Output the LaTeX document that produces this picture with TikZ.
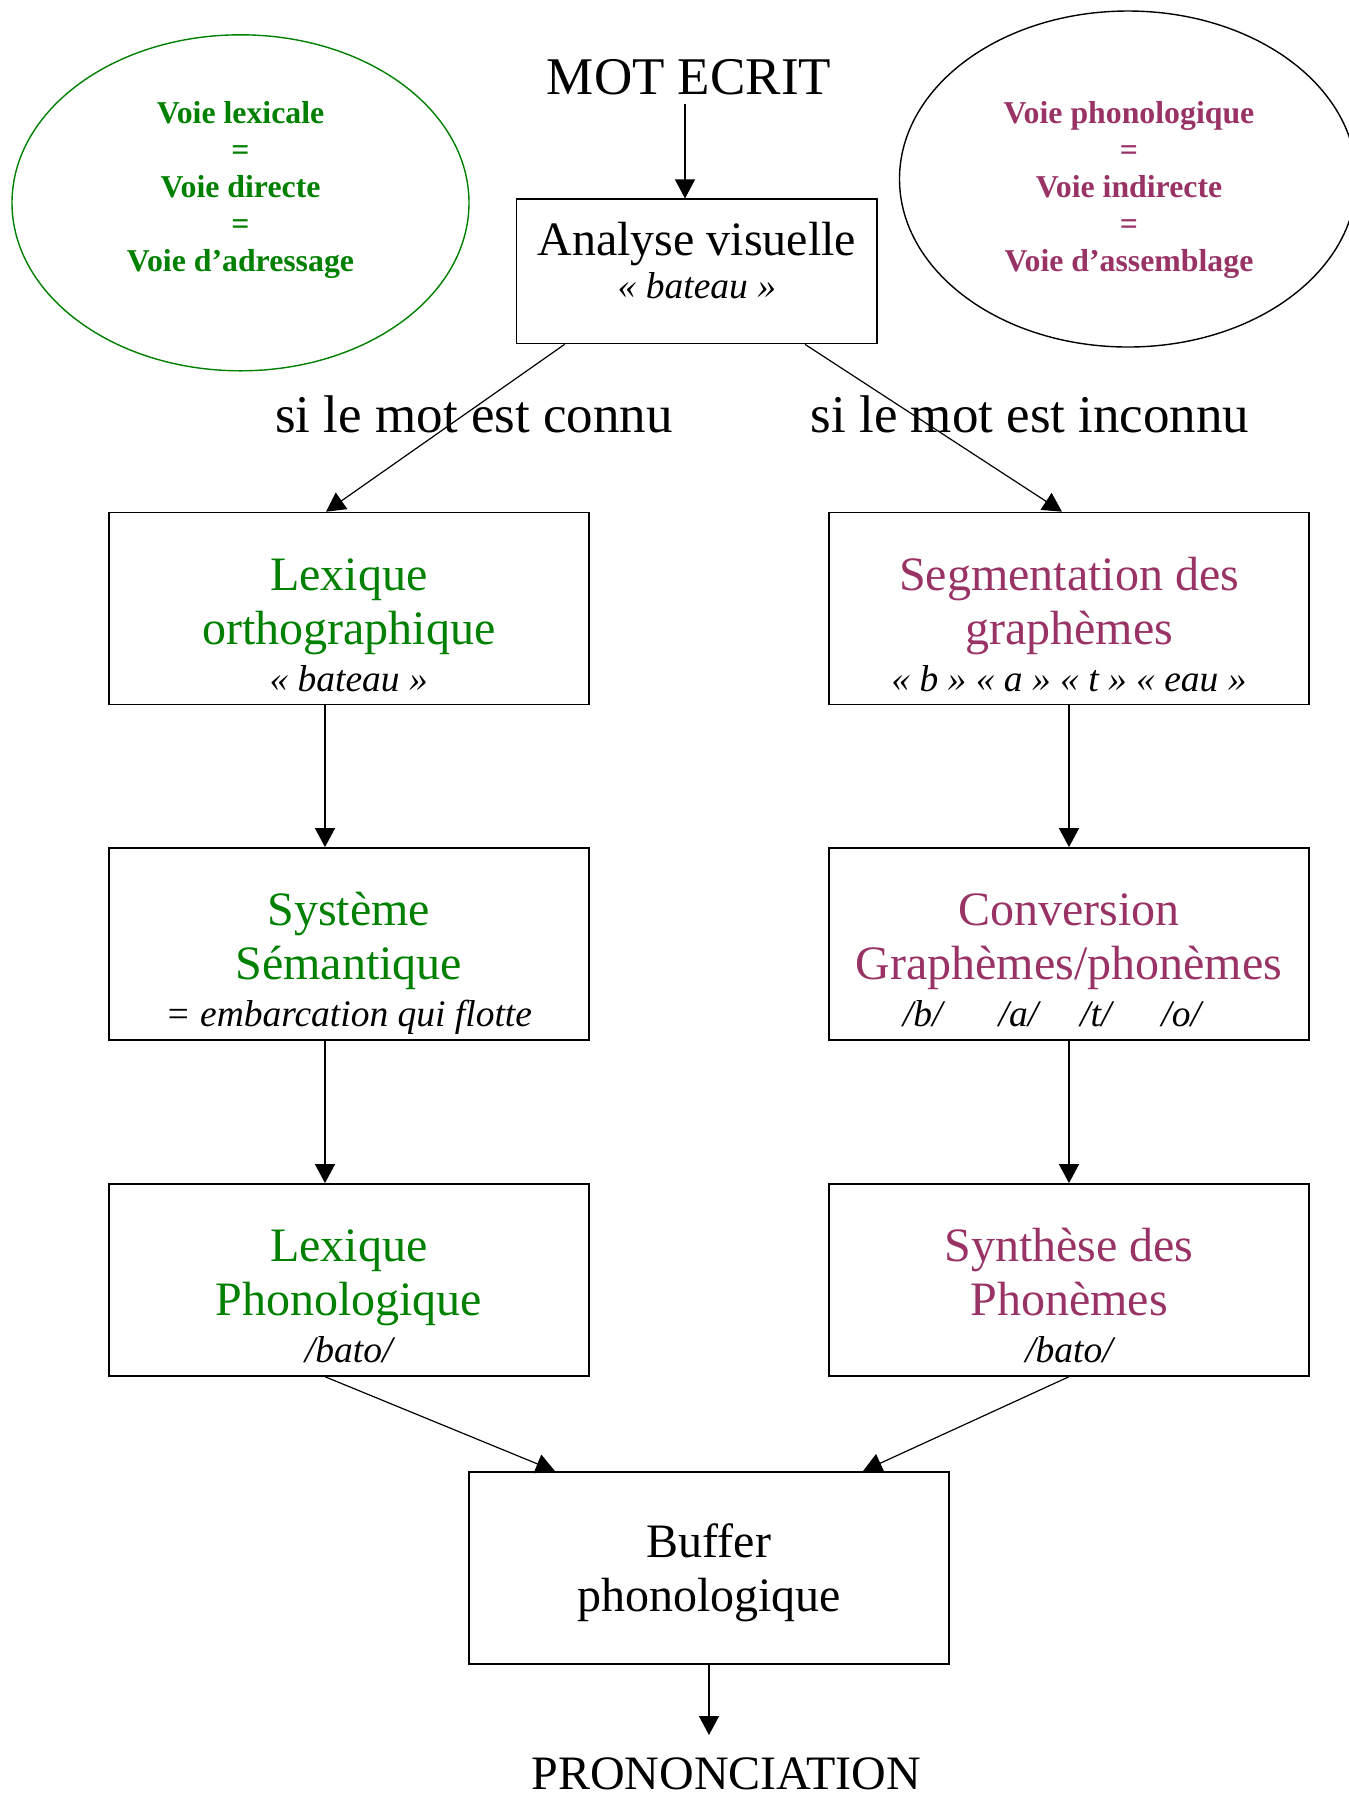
\documentclass[tikz,border=0pt]{standalone}
\usepackage{fontspec}
\setmainfont{Liberation Serif}
\usetikzlibrary{arrows.meta,shapes.geometric}
\definecolor{vert}{RGB}{0,128,0}
\definecolor{prune}{RGB}{153,51,102}
\newcommand{\sous}{\color{black}\fontsize{18.75}{22}\selectfont\itshape}

\tikzset{
  box/.style={draw, line width=0.8pt, minimum width=240pt, minimum height=96pt, inner sep=0pt},
  fleche/.style={line width=0.6pt, -{Triangle[length=9.5pt,width=10pt]}},
  gros/.style={align=center, font=\fontsize{24}{27}\selectfont, inner sep=0pt, anchor=base},
  titre/.style={font=\fontsize{26.5}{30}\selectfont, inner sep=0pt, anchor=base},
  voie/.style={draw, ellipse, line width=0.7pt, inner sep=0pt, minimum width=228.5pt, minimum height=168pt},
  voietxt/.style={align=center, font=\fontsize{15.9}{18.5}\selectfont\bfseries, inner sep=0pt}
}

\begin{document}
\begin{tikzpicture}[x=0.5pt, y=-0.5pt]
  \useasboundingbox (0,0) rectangle (1349,1796);

  % les deux voies
  \node[voie, draw=vert] (vlex) at (240.5,202.8) {};
  \node[voietxt, text=vert] (tlex) at (240.5,190) {Voie lexicale\\=\\Voie directe\\=\\Voie d’adressage};
  \node[voie] (vphon) at (1128,179) {};
  \node[voietxt, text=prune] (tphon) at (1129,190) {Voie phonologique\\=\\Voie indirecte\\=\\Voie d’assemblage};

  % entree
  \node[titre, inner sep=4.5pt] (mot) at (689,94) {MOT ECRIT};
  \node[box, minimum width=180.35pt, minimum height=72.15pt] (analyse) at (696.9,271.4) {};
  \node[gros] (tanalyse) at (696.9,298) {Analyse visuelle\\[-5.5pt]{\sous «~bateau~»}};

  \node[titre] (connu) at (474,432) {si le mot est connu};
  \node[titre] (inconnu) at (1030,432) {si le mot est inconnu};

  % colonne de gauche
  \node[box] (lexortho) at (348.7,608.5) {};
  \node[gros, text=vert] (tlexortho) at (348.7,691.5) {Lexique\\orthographique\\[-3.5pt]{\sous «~bateau~»}};
  \node[box] (semantique) at (348.7,943.9) {};
  \node[gros, text=vert] (tsemantique) at (348.7,1026.9) {Système\\Sémantique\\[-3.5pt]{\sous = embarcation qui flotte}};
  \node[box] (lexphono) at (348.7,1279.9) {};
  \node[gros, text=vert] (tlexphono) at (348.7,1362.9) {Lexique\\Phonologique\\[-3.5pt]{\sous /bato/}};

  % colonne de droite
  \node[box] (segment) at (1069,608.5) {};
  \node[gros, text=prune] (tsegment) at (1069,691.5) {Segmentation des\\graphèmes\\[-3.5pt]{\sous «~b~» «~a~» «~t~» «~eau~»}};
  \node[box] (conversion) at (1069,943.9) {};
  \node[gros, text=prune] (tconversion) at (1069,1026.9) {Conversion\\Graphèmes/phonèmes\\[-3.5pt]{\sous /b/\hspace{28pt}/a/\hspace{21pt}/t/\hspace{25pt}/o/\hspace*{17pt}}};
  \node[box] (synthese) at (1069,1279.9) {};
  \node[gros, text=prune] (tsynthese) at (1069,1362.9) {Synthèse des\\Phonèmes\\[-3.5pt]{\sous /bato/}};

  % sortie
  \node[box] (buffer) at (709,1567.9) {};
  \node[gros] (tbuffer) at (709,1611.5) {Buffer\\phonologique};
  \coordinate (fin) at (709,1735);
  \node[gros] (prononc) at (726,1789) {PRONONCIATION};

  % fleches
  \draw[fleche] ([xshift=-2pt]mot.south) -- ([xshift=-2pt]mot.south |- analyse.north);
  \draw[fleche] ([xshift=-66.15pt]analyse.south) -- ([xshift=-11.35pt]lexortho.north);
  \draw[fleche] ([xshift=54.05pt]analyse.south) -- ([xshift=-3.5pt]segment.north);
  \draw[fleche] ([xshift=-11.85pt]lexortho.south) -- ([xshift=-11.85pt]semantique.north);
  \draw[fleche] ([xshift=-11.85pt]semantique.south) -- ([xshift=-11.85pt]lexphono.north);
  \draw[fleche] (segment) -- (conversion);
  \draw[fleche] (conversion) -- (synthese);
  \draw[fleche] ([xshift=-11.85pt]lexphono.south) -- ([xshift=-77pt]buffer.north);
  \draw[fleche] (synthese.south) -- ([xshift=77pt]buffer.north);
  \draw[fleche] (buffer) -- (fin);
\end{tikzpicture}
\end{document}
